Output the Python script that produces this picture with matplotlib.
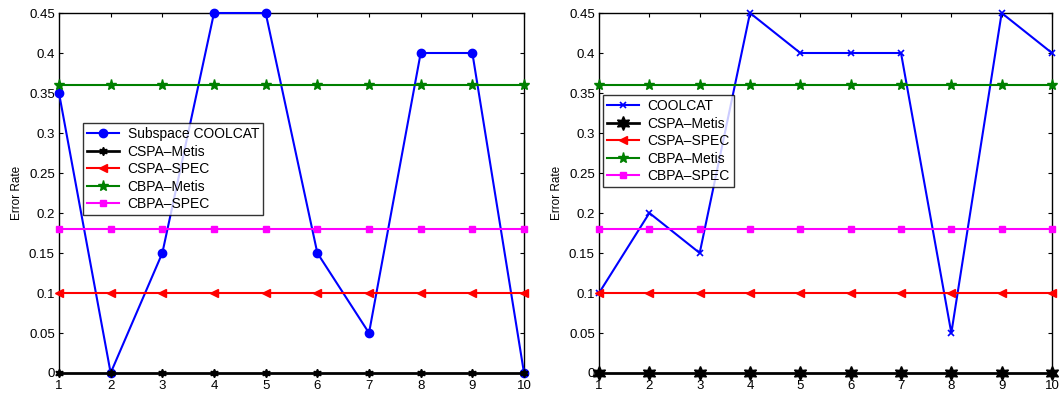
import numpy as np
from matplotlib import pyplot as plt

plt.rcParams['font.family'] = ['Liberation Sans', 'DejaVu Sans']

runs = np.arange(1, 11)
subspace_coolcat = [0.35, 0.0, 0.15, 0.45, 0.45, 0.15, 0.05, 0.40, 0.40, 0.0]
coolcat = [0.10, 0.20, 0.15, 0.45, 0.40, 0.40, 0.40, 0.05, 0.45, 0.40]
cspa_metis = [0.0] * 10
cspa_spec = [0.10] * 10
cbpa_metis = [0.36] * 10
cbpa_spec = [0.18] * 10

yticks = [0, 0.05, 0.1, 0.15, 0.2, 0.25, 0.3, 0.35, 0.4, 0.45]
ytick_labels = ['0', '0.05', '0.1', '0.15', '0.2', '0.25', '0.3', '0.35', '0.4', '0.45']

hexagram = (6, 1, 0)


def draw_panel(ax, first_name, first_vals, first_style, metis_size, legend_anchor):
    lw = 1.5
    ax.plot(runs, first_vals, color='#0000ff', lw=lw, label=first_name,
            clip_on=False, zorder=3, **first_style)
    ax.plot(runs, cspa_metis, color='black', lw=lw * 1.3, marker=hexagram,
            markersize=metis_size, label='CSPA\u2013Metis', clip_on=False, zorder=4)
    ax.plot(runs, cspa_spec, color='#ff0000', lw=lw, marker='<', markersize=6,
            label='CSPA\u2013SPEC', clip_on=False, zorder=3)
    ax.plot(runs, cbpa_metis, color='#008000', lw=lw, marker='*', markersize=8,
            label='CBPA\u2013Metis', clip_on=False, zorder=3)
    ax.plot(runs, cbpa_spec, color='#ff00ff', lw=lw, marker='s', markersize=5,
            label='CBPA\u2013SPEC', clip_on=False, zorder=3)

    ax.set_xlim(1, 10)
    ax.set_ylim(0, 0.45)
    ax.set_xticks(runs)
    ax.set_yticks(yticks)
    ax.set_yticklabels(ytick_labels)
    ax.tick_params(direction='in', top=True, right=True, labelsize=9.5,
                   length=3, width=0.8, pad=3)
    ax.tick_params(axis='x', pad=5)
    for s in ax.spines.values():
        s.set_linewidth(1.0)
    ax.set_ylabel('Error Rate', fontsize=8.5, labelpad=4)

    leg = ax.legend(loc='upper left', bbox_to_anchor=legend_anchor, fontsize=10,
                    frameon=True, fancybox=False, edgecolor='black',
                    borderpad=0.3, labelspacing=0.25, handlelength=2.3,
                    handletextpad=0.6, borderaxespad=0)
    leg.get_frame().set_linewidth(1.0)


fig = plt.figure(figsize=(10.61, 3.94), dpi=100)
ax1 = fig.add_axes([0.0556, 0.0533, 0.4383, 0.9137])
ax2 = fig.add_axes([0.5646, 0.0533, 0.4269, 0.9137])

draw_panel(ax1, 'Subspace COOLCAT', subspace_coolcat,
           dict(marker='o', markersize=6), 6, (0.052, 0.694))
draw_panel(ax2, 'COOLCAT', coolcat,
           dict(marker='x', markersize=4, markeredgewidth=1.2), 10, (0.009, 0.772))

fig.savefig('out.png', dpi=100)
